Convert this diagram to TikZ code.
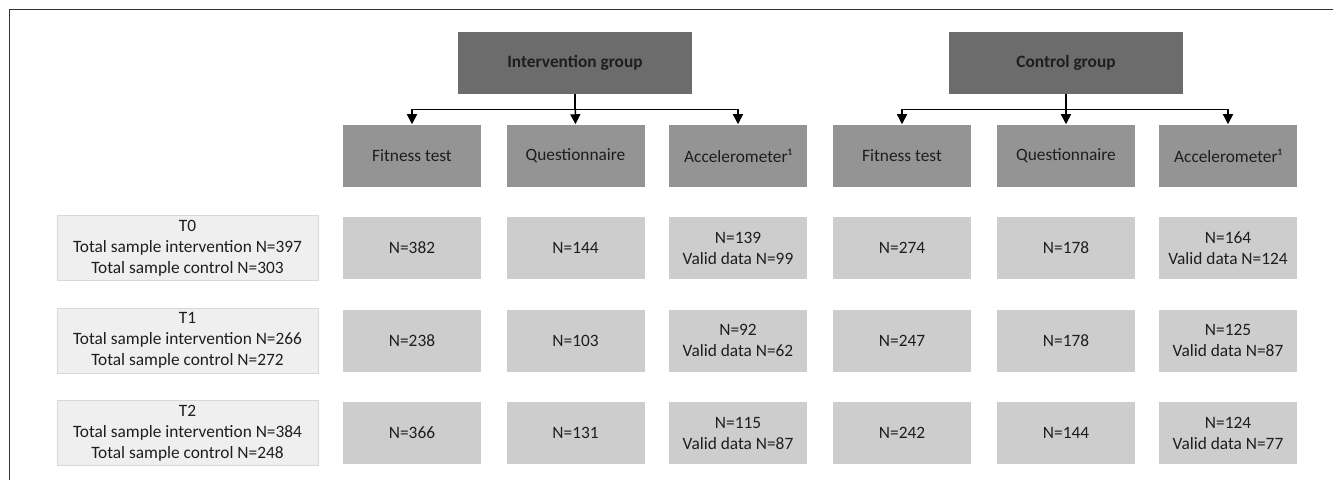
\documentclass[tikz,border=0pt]{standalone}
\usepackage{fontspec}
\setmainfont{Carlito}
\usetikzlibrary{positioning,arrows.meta}
\definecolor{hdrgray}{HTML}{6C6C6C}
\definecolor{colgray}{HTML}{949494}
\definecolor{cellgray}{HTML}{CDCDCD}
\definecolor{lblgray}{HTML}{EFEFEF}
\definecolor{lbledge}{HTML}{D8D8D8}
\definecolor{inkgray}{HTML}{1E1E1E}

\tikzset{
  grouphdr/.style={fill=hdrgray, minimum width=175.5pt, minimum height=46.5pt,
    font=\bfseries\fontsize{13}{15.75}\selectfont, text=inkgray},
  measbox/.style={fill=colgray, minimum width=103.5pt, minimum height=46.5pt,
    font=\fontsize{13}{15.75}\selectfont, text=inkgray},
  cellbox/.style={fill=cellgray, minimum width=103.5pt, minimum height=46.5pt,
    align=center, font=\fontsize{13}{15.75}\selectfont, text=inkgray},
  timebox/.style={fill=lblgray, draw=lbledge, line width=0.6pt, minimum width=195.75pt,
    minimum height=46.5pt, align=center, font=\fontsize{13}{15.75}\selectfont, text=inkgray},
  branch/.style={-{Triangle[length=7.5pt,width=7.5pt]}, line width=1.1pt, black}
}

\begin{document}
\begin{tikzpicture}[x=0.75pt, y=-0.75pt]
    \useasboundingbox (0,0) rectangle (1333,480);
    \draw[line width=1.3pt, black!80] (9.5,480) -- (9.5,9.5) -- (1333,9.5);
    % group headers
    \node[grouphdr] (ig) at (575,63) {Intervention group};
    \node[grouphdr] (cg) at (1066,63) {Control group};
    % measurement boxes
    \node[measbox] (ifit) at (412,155.5) {Fitness test};
    \node[measbox] (iq) at (575.5,155.5) {Questionnaire};
    \node[measbox] (iacc) at (738,155.5) {Accelerometer¹};
    \node[measbox] (cfit) at (902,155.5) {Fitness test};
    \node[measbox] (cq) at (1066,155.5) {Questionnaire};
    \node[measbox] (cacc) at (1228,155.5) {Accelerometer¹};
    \foreach \grp in {i,c} {
      \draw[branch] (\grp g.south) -- ++(0,15) -| (\grp fit.north);
      \draw[branch] (\grp g.south) -- (\grp q.north);
      \draw[branch] (\grp g.south) -- ++(0,15) -| (\grp acc.north);
    }
    % time points
    \node[timebox] (t0) at (187.5,248) {T0\\Total sample intervention N=397\\Total sample control N=303};
    \node[timebox] (t1) at (187.5,340.5) {T1\\Total sample intervention N=266\\Total sample control N=272};
    \node[timebox] (t2) at (187.5,433) {T2\\Total sample intervention N=384\\Total sample control N=248};
    % sample sizes
    \foreach \x/\txt [count=\k] in {412/N=382, 575.5/N=144, 738/{N=139\\Valid data N=99},
        902/N=274, 1066/N=178, 1228/{N=164\\Valid data N=124}}
      \node[cellbox] (a\k) at (\x,248) {\txt};
    \foreach \x/\txt [count=\k] in {412/N=238, 575.5/N=103, 738/{N=92\\Valid data N=62},
        902/N=247, 1066/N=178, 1228/{N=125\\Valid data N=87}}
      \node[cellbox] (b\k) at (\x,340.5) {\txt};
    \foreach \x/\txt [count=\k] in {412/N=366, 575.5/N=131, 738/{N=115\\Valid data N=87},
        902/N=242, 1066/N=144, 1228/{N=124\\Valid data N=77}}
      \node[cellbox] (c\k) at (\x,433) {\txt};
  \end{tikzpicture}
\end{document}
